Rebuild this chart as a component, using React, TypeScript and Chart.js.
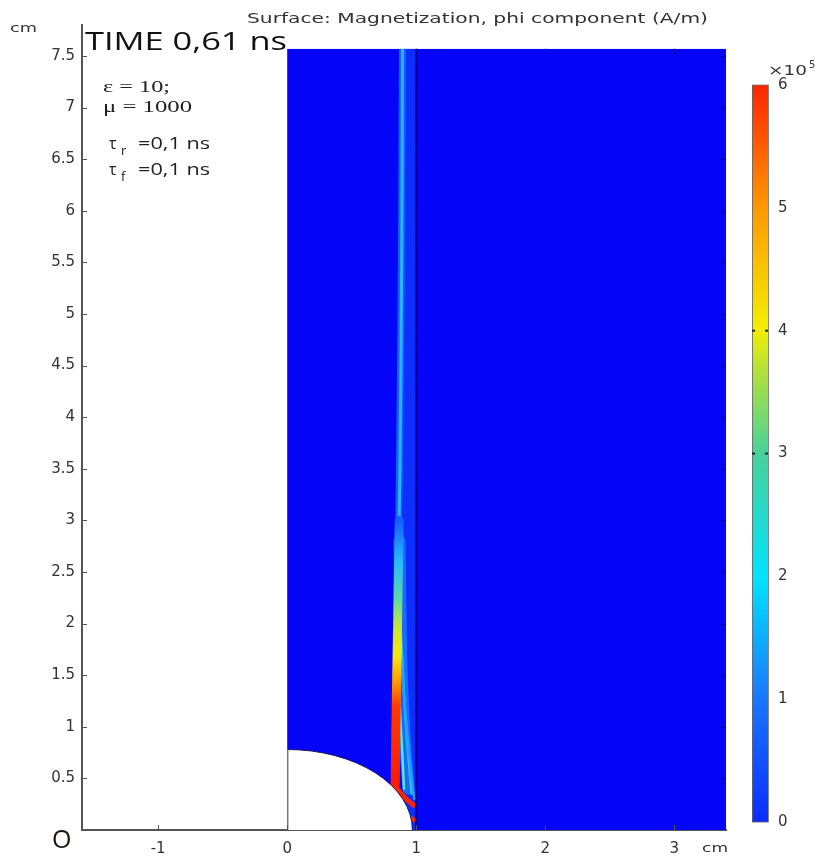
import React, { useEffect, useRef } from "react";
import { Chart, registerables } from "chart.js";

Chart.register(...registerables);

// ---- data ----
const xTicks = [-1, 0, 1, 2, 3];
const yTicks = [0, 0.5, 1, 1.5, 2, 2.5, 3, 3.5, 4, 4.5, 5, 5.5, 6, 6.5, 7, 7.5];
const cbarTicks = [0, 1, 2, 3, 4, 5, 6];
const xRange = [-1.59, 3.4];
const yRange = [0, 7.8];
const cbarRange = [-0.065, 6.489];
const domainX = [0, 3.4];
const domainTop = 7.57;
const sphereRadii = [0.97, 0.78];

// field streaks (x, y in cm), listed from bottom layer to top layer
const bandHaze = [{ x: 0.95, y: 0 }, { x: 0.95, y: 7.57 }];
const lowerHaze = [{ x: 0.87, y: 2.8 }, { x: 0.885, y: 1.6 }, { x: 0.91, y: 0.9 }, { x: 0.94, y: 0.4 }];
const mainGlow = [{ x: 0.893, y: 7.57 }, { x: 0.885, y: 5.5 }, { x: 0.87, y: 3.5 }, { x: 0.855, y: 2.2 }, { x: 0.845, y: 1.2 }, { x: 0.84, y: 0.5 }];
const mainCore = [{ x: 0.893, y: 7.57 }, { x: 0.887, y: 5.5 }, { x: 0.873, y: 3.5 }, { x: 0.862, y: 2.6 }];
const sideA = [{ x: 0.87, y: 2.2 }, { x: 0.905, y: 1.3 }, { x: 0.94, y: 0.7 }, { x: 0.965, y: 0.35 }];
const sideB = [{ x: 0.88, y: 1.7 }, { x: 0.925, y: 1.0 }, { x: 0.955, y: 0.6 }, { x: 0.985, y: 0.3 }];
const sideC = [{ x: 0.86, y: 1.5 }, { x: 0.885, y: 0.9 }, { x: 0.905, y: 0.4 }];
const hotColumn = [
  { x: 0.868, y: 3.0 },
  { x: 0.86, y: 2.4 },
  { x: 0.853, y: 1.8 },
  { x: 0.846, y: 1.3 },
  { x: 0.84, y: 0.8 },
  { x: 0.837, y: 0.44 },
];
// colour stops along the hot column: [y (cm), colour]
const hotStops: [number, string][] = [
  [3.0, "#1460ff"],
  [2.6, "#2ab8ff"],
  [2.25, "#5ad8a8"],
  [1.95, "#c8e830"],
  [1.7, "#f6ea10"],
  [1.45, "#ffa000"],
  [1.2, "#ff3a00"],
  [0.44, "#ff1a00"],
];
const redDiagonal = [{ x: 0.845, y: 0.41 }, { x: 0.905, y: 0.32 }, { x: 0.98, y: 0.24 }];
const redSpot = [{ x: 0.962, y: 0.115 }, { x: 0.985, y: 0.095 }];
const boundaryLine = [{ x: 1.0, y: 0 }, { x: 1.0, y: 7.57 }];

const cbarStops: [number, string][] = [
  [0, "#0a2cff"],
  [0.17, "#1a78ff"],
  [0.33, "#00e2ff"],
  [0.5, "#48d29a"],
  [0.6, "#a6df45"],
  [0.67, "#f4ee00"],
  [0.83, "#ff9a00"],
  [1, "#ff2400"],
];

function mk(data: { x: number; y: number }[], color: any, width: number, cap: string = "butt") {
  return {
    data,
    showLine: true,
    borderColor: color,
    backgroundColor: "transparent",
    borderWidth: width,
    pointRadius: 0,
    tension: 0.3,
    borderCapStyle: cap,
    fill: false,
    xAxisID: "x",
    yAxisID: "y",
  };
}

function hotGradient(c: any) {
  const chart = c.chart;
  const y = chart.scales && chart.scales.y;
  if (!chart.chartArea || !y) return "#ff2000";
  const top = y.getPixelForValue(hotStops[0][0]);
  const bot = y.getPixelForValue(hotStops[hotStops.length - 1][0]);
  const g = chart.ctx.createLinearGradient(0, top, 0, bot);
  hotStops.forEach(([v, col]) => {
    const p = (y.getPixelForValue(v) - top) / (bot - top);
    g.addColorStop(Math.min(1, Math.max(0, p)), col);
  });
  return g;
}

function stretchText(ctx: CanvasRenderingContext2D, text: string, x: number, y: number, width: number | null) {
  if (width == null) {
    ctx.fillText(text, x, y);
    return;
  }
  const w = ctx.measureText(text).width;
  ctx.save();
  ctx.translate(x, y);
  ctx.scale(width / w, 1);
  ctx.fillText(text, 0, 0);
  ctx.restore();
}

const fieldPlugin = {
  id: "field",
  beforeDatasetsDraw(chart: any) {
    const { ctx, scales } = chart;
    const x = scales.x, y = scales.y;
    const l = x.getPixelForValue(domainX[0]);
    const r = x.getPixelForValue(domainX[1]);
    const t = y.getPixelForValue(domainTop);
    const b = y.getPixelForValue(0);
    ctx.save();
    ctx.fillStyle = "#0505fa";
    ctx.fillRect(l, t, r - l, b - t);
    ctx.restore();
  },
  afterDatasetsDraw(chart: any) {
    const { ctx, scales } = chart;
    const x = scales.x, y = scales.y, cb = scales.cbar;
    const l = x.getPixelForValue(0);
    const b = y.getPixelForValue(0);
    const rx = x.getPixelForValue(sphereRadii[0]) - l;
    const ry = b - y.getPixelForValue(sphereRadii[1]);
    const r = x.getPixelForValue(domainX[1]);
    const t = y.getPixelForValue(domainTop);
    ctx.save();
    // clean the strip above the domain (streak overshoot)
    ctx.fillStyle = "#ffffff";
    ctx.fillRect(l, t - 12, r - l + 1, 12);
    // sphere cut-out
    ctx.beginPath();
    ctx.moveTo(l, b);
    ctx.lineTo(l, b - ry);
    ctx.ellipse(l, b, rx, ry, 0, -Math.PI / 2, 0);
    ctx.closePath();
    ctx.fill();
    ctx.strokeStyle = "#1a1a50";
    ctx.lineWidth = 1;
    ctx.beginPath();
    ctx.ellipse(l, b, rx, ry, 0, -Math.PI / 2, 0);
    ctx.stroke();
    ctx.strokeStyle = "#777";
    ctx.lineWidth = 1.5;
    ctx.beginPath();
    ctx.moveTo(l + 0.5, b);
    ctx.lineTo(l + 0.5, b - ry);
    ctx.stroke();

    // inner tick marks
    ctx.strokeStyle = "#555";
    ctx.lineWidth = 1;
    const ca = chart.chartArea;
    xTicks.forEach((v) => {
      const px = Math.round(x.getPixelForValue(v)) + 0.5;
      ctx.beginPath();
      ctx.moveTo(px, ca.bottom);
      ctx.lineTo(px, ca.bottom - 5);
      ctx.stroke();
    });
    yTicks.forEach((v) => {
      const py = Math.round(y.getPixelForValue(v)) + 0.5;
      ctx.beginPath();
      ctx.moveTo(ca.left, py);
      ctx.lineTo(ca.left + 5, py);
      ctx.stroke();
    });
    ctx.strokeStyle = "#000090";
    yTicks.forEach((v) => {
      if (v === 0 || v > domainTop) return;
      const py = Math.round(y.getPixelForValue(v)) + 0.5;
      ctx.beginPath();
      ctx.moveTo(r, py);
      ctx.lineTo(r - 5, py);
      ctx.stroke();
    });
    xTicks.forEach((v) => {
      if (v <= 0) return;
      const px = Math.round(x.getPixelForValue(v)) + 0.5;
      ctx.beginPath();
      ctx.moveTo(px, t);
      ctx.lineTo(px, t + 5);
      ctx.stroke();
    });

    // colour bar
    const c0 = cb.getPixelForValue(0);
    const c6 = cb.getPixelForValue(6);
    const grad = ctx.createLinearGradient(0, c0, 0, c6);
    cbarStops.forEach(([s, c]) => grad.addColorStop(s, c));
    ctx.fillStyle = grad;
    ctx.fillRect(752, c6, 16, c0 - c6);
    ctx.strokeStyle = "#666";
    ctx.lineWidth = 0.8;
    ctx.strokeRect(752.5, c6, 16, c0 - c6);
    ctx.fillStyle = "#222";
    [3, 4].forEach((v) => {
      const py = cb.getPixelForValue(v);
      ctx.fillRect(752, py - 1, 3, 2);
      ctx.fillRect(765, py - 1, 3, 2);
    });

    // texts
    ctx.textAlign = "left";
    ctx.textBaseline = "alphabetic";
    ctx.fillStyle = "#333";
    ctx.font = "14px 'DejaVu Sans'";
    stretchText(ctx, "Surface: Magnetization, phi component (A/m)", 247, 23, 461);
    ctx.font = "13px 'DejaVu Sans'";
    stretchText(ctx, "cm", 10, 32, 27);
    stretchText(ctx, "cm", 702, 852, 26);
    ctx.font = "14px 'DejaVu Sans'";
    stretchText(ctx, "×10", 768, 75, 39);
    ctx.font = "10px 'DejaVu Sans'";
    ctx.fillText("5", 809, 68);

    ctx.fillStyle = "#111";
    ctx.font = "25px 'Open Sans'";
    stretchText(ctx, "TIME 0,61 ns", 85, 50, 202);
    ctx.fillStyle = "#1a1208";
    ctx.font = "25px 'Open Sans'";
    ctx.fillText("O", 52, 848);

    ctx.fillStyle = "#222";
    ctx.font = "17px 'Liberation Serif'";
    stretchText(ctx, "ε = 10;", 103, 92, 67);
    stretchText(ctx, "μ = 1000", 103, 112, 89);
    ctx.font = "16px 'Open Sans'";
    ctx.fillText("τ", 109, 149);
    ctx.fillText("τ", 109, 175);
    ctx.font = "13px 'Open Sans'";
    ctx.fillText("r", 121, 155);
    ctx.fillText("f", 121, 181);
    ctx.font = "16px 'Open Sans'";
    stretchText(ctx, "=0,1 ns", 138, 149, 72);
    stretchText(ctx, "=0,1 ns", 138, 175, 72);
    ctx.restore();
  },
};

export default function App() {
  const ref = useRef<HTMLCanvasElement | null>(null);
  useEffect(() => {
    document.body.style.margin = "0";
    if (!ref.current) return;
    const layers = [
      mk(bandHaze, "#0c2eff", 14),
      mk(lowerHaze, "rgba(30,150,255,0.6)", 12, "round"),
      mk(mainGlow, "#1460ff", 7, "round"),
      mk(mainCore, "#2ab4ff", 3, "round"),
      mk(sideA, "#35c8ff", 2.5, "round"),
      mk(sideB, "#1ea0ff", 2.5, "round"),
      mk(sideC, "#5fe6c8", 2.5, "round"),
      mk(hotColumn, hotGradient, 9, "round"),
      mk(redDiagonal, "#ff2200", 5, "round"),
      mk(redSpot, "#ff2a00", 4, "round"),
      mk(boundaryLine, "#00008a", 2),
    ];
    const datasets = layers.reverse();
    const tickFont = { family: "'DejaVu Sans'", size: 15 };
    const chart = new Chart(ref.current, {
      type: "scatter",
      data: { datasets: datasets as any },
      plugins: [fieldPlugin as any],
      options: {
        animation: false,
        responsive: true,
        maintainAspectRatio: false,
        layout: { padding: { top: 25, left: 0, right: 0, bottom: 0 } },
        plugins: { legend: { display: false }, tooltip: { enabled: false } },
        scales: {
          x: {
            type: "linear",
            position: "bottom",
            min: xRange[0],
            max: xRange[1],
            afterBuildTicks: (s: any) => {
              s.ticks = xTicks.map((v) => ({ value: v }));
            },
            afterFit: (s: any) => {
              s.height = 27;
              s.paddingLeft = 0;
              s.paddingRight = 0;
            },
            grid: { display: false, drawTicks: false },
            border: { display: true, color: "#555", width: 2 },
            ticks: { font: tickFont, color: "#333", padding: 10, maxRotation: 0, autoSkip: false },
          },
          y: {
            type: "linear",
            position: "left",
            min: yRange[0],
            max: yRange[1],
            afterBuildTicks: (s: any) => {
              s.ticks = yTicks.map((v) => ({ value: v }));
            },
            afterFit: (s: any) => {
              s.width = 82;
              s.paddingTop = 0;
              s.paddingBottom = 0;
            },
            grid: { display: false, drawTicks: false },
            border: { display: true, color: "#555", width: 2 },
            ticks: {
              font: tickFont,
              color: "#333",
              padding: 7,
              autoSkip: false,
              callback: (v: any) => (v === 0 ? "" : String(v)),
            },
          },
          cbar: {
            type: "linear",
            position: "right",
            min: cbarRange[0],
            max: cbarRange[1],
            afterBuildTicks: (s: any) => {
              s.ticks = cbarTicks.map((v) => ({ value: v }));
            },
            afterFit: (s: any) => {
              s.width = 95;
              s.paddingTop = 0;
              s.paddingBottom = 0;
            },
            grid: { display: false, drawTicks: false },
            border: { display: false },
            ticks: { font: tickFont, color: "#333", padding: 52, autoSkip: false },
          },
        },
      },
    });
    return () => chart.destroy();
  }, []);
  return (
    <div style={{ width: 821, height: 857, position: "relative" }}>
      <canvas ref={ref} />
    </div>
  );
}
